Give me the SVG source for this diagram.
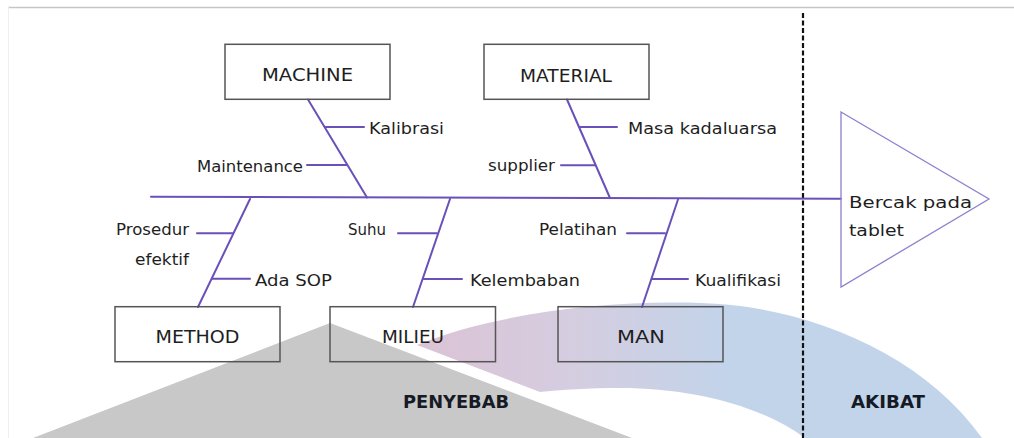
<svg xmlns="http://www.w3.org/2000/svg" width="1014" height="438" viewBox="0 0 1014 438">
<defs>
<linearGradient id="band" gradientUnits="userSpaceOnUse" x1="417" y1="0" x2="730" y2="0">
<stop offset="0" stop-color="#dbc3d5"/>
<stop offset="0.5" stop-color="#d5cde0"/>
<stop offset="1" stop-color="#c2d4ea"/>
</linearGradient>
<style>
.box{fill:none;stroke:#555;stroke-width:1.5}
.bone{stroke:#6a50b8;stroke-width:2;fill:none;stroke-linecap:round}
.title{font-family:"DejaVu Sans",sans-serif;font-size:18.5px;fill:#1e1e1e;text-anchor:middle}
.lbl{font-family:"DejaVu Sans",sans-serif;font-size:16.5px;fill:#1e1e1e}
.big{font-family:"DejaVu Sans",sans-serif;font-size:18px;font-weight:bold;fill:#151a25}
</style>
</defs>
<rect x="0" y="0" width="1014" height="438" fill="#fff"/>
<line x1="8" y1="7.5" x2="1014" y2="7.5" stroke="#c6c6c6" stroke-width="1.5"/>
<line x1="8.5" y1="7" x2="8.5" y2="438" stroke="#efefef" stroke-width="1"/>
<g id="background">
<polygon points="330,323 33,438 632,438" fill="#c8c8c8"/>
<path d="M417 345 C490 315 600 300 700 303 C800 305 920 350 982 438 L805 438 C760 405 690 388 620 388 C590 388 560 390 540 392 Z" fill="url(#band)"/>
</g>
<line x1="803" y1="13" x2="803" y2="438" stroke="#111" stroke-width="2.2" stroke-dasharray="5 2.5"/>
<g id="connectors">
<line class="bone" x1="151" y1="196.7" x2="841" y2="198.7"/>
<line class="bone" x1="308" y1="99.5" x2="367" y2="197.5"/>
<line class="bone" x1="325" y1="127" x2="364" y2="127"/>
<line class="bone" x1="307" y1="165" x2="347" y2="165"/>
<line class="bone" x1="567" y1="99.5" x2="610" y2="198"/>
<line class="bone" x1="580" y1="127" x2="617" y2="127"/>
<line class="bone" x1="561" y1="165.3" x2="595" y2="165.3"/>
<line class="bone" x1="250" y1="199" x2="198" y2="307"/>
<line class="bone" x1="197" y1="233.3" x2="233" y2="233.3"/>
<line class="bone" x1="212" y1="278.8" x2="250" y2="278.8"/>
<line class="bone" x1="450" y1="199" x2="413" y2="307"/>
<line class="bone" x1="398" y1="233.3" x2="437" y2="233.3"/>
<line class="bone" x1="423" y1="279" x2="462" y2="279"/>
<line class="bone" x1="678" y1="199.5" x2="642" y2="307"/>
<line class="bone" x1="627" y1="233.3" x2="665" y2="233.3"/>
<line class="bone" x1="652" y1="279" x2="688" y2="279"/>
</g>
<g id="machine">
<rect class="box" x="225" y="44.3" width="165" height="55"/>
<text class="title" x="307.5" y="81" textLength="91" lengthAdjust="spacingAndGlyphs">MACHINE</text>
</g>
<g id="material">
<rect class="box" x="484" y="44.3" width="165" height="55"/>
<text class="title" x="566" y="81.5" textLength="92" lengthAdjust="spacingAndGlyphs">MATERIAL</text>
</g>
<g id="method">
<rect class="box" x="115" y="306.7" width="165" height="55"/>
<text class="title" x="197.5" y="343" textLength="84" lengthAdjust="spacingAndGlyphs">METHOD</text>
</g>
<g id="milieu">
<rect class="box" x="330" y="306.7" width="165.5" height="55"/>
<text class="title" x="413" y="343" textLength="62" lengthAdjust="spacingAndGlyphs">MILIEU</text>
</g>
<g id="man">
<rect class="box" x="558" y="306.7" width="165" height="55"/>
<text class="title" x="641" y="343" textLength="48" lengthAdjust="spacingAndGlyphs">MAN</text>
</g>
<g id="labels">
<text class="lbl" x="369" y="134" textLength="75" lengthAdjust="spacingAndGlyphs">Kalibrasi</text>
<text class="lbl" x="197" y="171.5" textLength="106" lengthAdjust="spacingAndGlyphs">Maintenance</text>
<text class="lbl" x="628" y="134" textLength="149" lengthAdjust="spacingAndGlyphs">Masa kadaluarsa</text>
<text class="lbl" x="488" y="171" textLength="67" lengthAdjust="spacingAndGlyphs">supplier</text>
<text class="lbl" x="116" y="235" textLength="73" lengthAdjust="spacingAndGlyphs">Prosedur</text>
<text class="lbl" x="135" y="265" textLength="54" lengthAdjust="spacingAndGlyphs">efektif</text>
<text class="lbl" x="255" y="285.7" textLength="77" lengthAdjust="spacingAndGlyphs">Ada SOP</text>
<text class="lbl" x="348" y="235" textLength="38" lengthAdjust="spacingAndGlyphs">Suhu</text>
<text class="lbl" x="470" y="285.7" textLength="110" lengthAdjust="spacingAndGlyphs">Kelembaban</text>
<text class="lbl" x="539" y="235" textLength="78" lengthAdjust="spacingAndGlyphs">Pelatihan</text>
<text class="lbl" x="695" y="285.7" textLength="86" lengthAdjust="spacingAndGlyphs">Kualifikasi</text>
</g>
<g id="effect">
<polygon points="841,112 989,199 841,287" fill="none" stroke="#8f7fcf" stroke-width="1.3"/>
<text class="lbl" x="849" y="208" font-size="19" textLength="123" lengthAdjust="spacingAndGlyphs">Bercak pada</text>
<text class="lbl" x="849" y="235.7" font-size="19" textLength="55" lengthAdjust="spacingAndGlyphs">tablet</text>
</g>
<text class="big" x="403" y="408" textLength="106" lengthAdjust="spacingAndGlyphs">PENYEBAB</text>
<text class="big" x="851" y="408" textLength="74" lengthAdjust="spacingAndGlyphs">AKIBAT</text>
</svg>
